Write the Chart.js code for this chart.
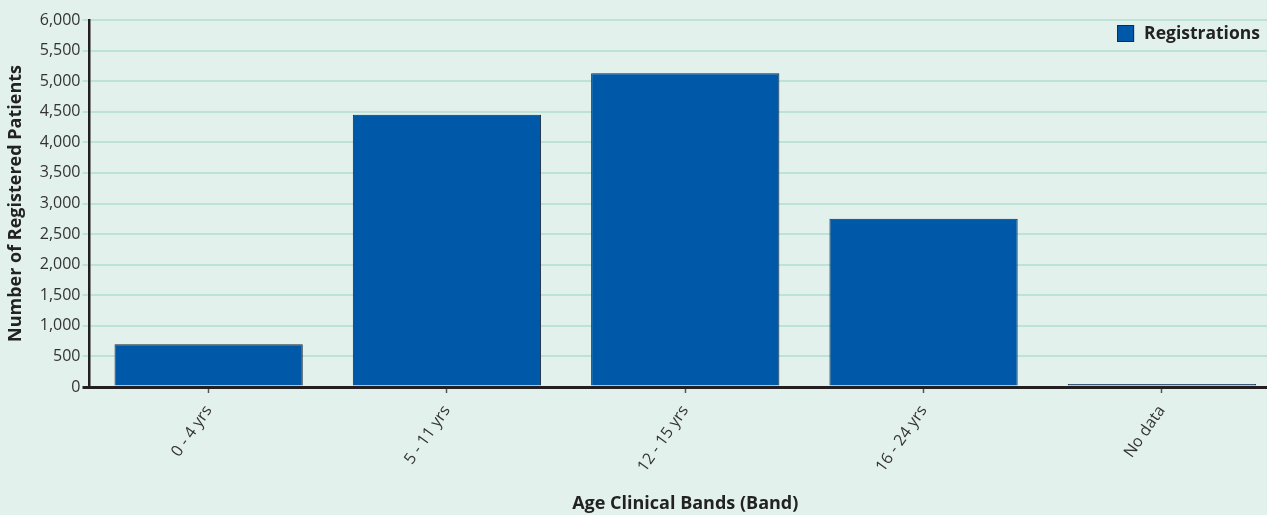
<!DOCTYPE html>
<html>
<head>
<meta charset="utf-8">
<title>Registrations by Age Band</title>
<script src="https://cdn.jsdelivr.net/npm/chart.js@4/dist/chart.umd.min.js"></script>
<style>
    html, body { margin: 0; padding: 0; background: #e3f1ed; overflow: hidden; }
    #wrap { width: 1281px; height: 515px; position: relative; }
</style>
</head>
<body>
<div id="wrap"><canvas id="mainChart"></canvas></div>
<script>
const bands = ['0 - 4 yrs', '5 - 11 yrs', '12 - 15 yrs', '16 - 24 yrs', 'No data'];
const registrations = [700, 4450, 5130, 2750, 50];
const yTicks = [0, 500, 1000, 1500, 2000, 2500, 3000, 3500, 4000, 4500, 5000, 5500, 6000];

const FONT = "'Open Sans', 'Noto Sans', sans-serif";
const GRID = '#bde3d9';
const AXIS = '#231f20';


// ---------------- Legend (inside plot, top right) ----------------
const cornerLegend = {
    id: 'cornerLegend',
    afterDraw(chart) {
        const ctx = chart.ctx;
        const ds = chart.data.datasets[0];
        const area = chart.chartArea;
        ctx.save();
        ctx.font = 'bold 17.5px ' + FONT;
        const textW = ctx.measureText(ds.label).width;
        const right = area.right - 21;
        const textX = right - textW;
        const boxX = textX - 27;
        const boxY = area.top + 5;
        ctx.fillStyle = ds.backgroundColor;
        ctx.fillRect(boxX, boxY, 17, 17);
        ctx.strokeStyle = ds.borderColor;
        ctx.lineWidth = 1;
        ctx.strokeRect(boxX + 0.5, boxY + 0.5, 16, 16);
        ctx.fillStyle = '#222';
        ctx.textBaseline = 'middle';
        ctx.fillText(ds.label, textX, boxY + 9);
        ctx.restore();
    }
};


// ---------------- Chart Init ----------------
function initChart() {
    const ctx = document.getElementById('mainChart').getContext('2d');

    return new Chart(ctx, {
        type: 'bar',
        data: {
            labels: bands,
            datasets: [{
                label: 'Registrations',
                data: registrations,
                backgroundColor: '#0059a8',
                borderColor: '#1b2a3b',
                borderWidth: 1,
                categoryPercentage: 1,
                barPercentage: 0.79
            }]
        },
        options: {
            responsive: true,
            maintainAspectRatio: false,
            animation: false,
            layout: { padding: { top: 20, right: 0, bottom: 0, left: 0 } },
            plugins: {
                legend: { display: false },
                tooltip: { enabled: false }
            },
            scales: {
                x: {
                    afterFit: s => { s.height = 128; },
                    border: { color: AXIS, width: 3 },
                    grid: {
                        offset: false,
                        drawOnChartArea: false,
                        drawTicks: true,
                        tickLength: 6,
                        tickColor: '#555',
                        tickWidth: 1.5
                    },
                    ticks: {
                        autoSkip: false,
                        minRotation: 55,
                        maxRotation: 55,
                        padding: 9,
                        color: '#333',
                        font: { family: FONT, size: 16 }
                    },
                    title: {
                        display: true,
                        text: 'Age Clinical Bands (Band)',
                        color: '#222',
                        padding: { top: 0, bottom: 0 },
                        font: { family: FONT, size: 18, weight: 'bold' }
                    }
                },
                y: {
                    min: 0,
                    max: 6000,
                    afterFit: s => { s.width = 89.5; },
                    afterBuildTicks: s => { s.ticks = yTicks.map(v => ({ value: v })); },
                    border: { color: AXIS, width: 2.5 },
                    grid: {
                        color: c => c.tick && c.tick.value === 0 ? AXIS : GRID,
                        lineWidth: c => c.tick && c.tick.value === 0 ? 3 : 2,
                        tickLength: 7
                    },
                    ticks: {
                        padding: 2,
                        color: '#333',
                        font: { family: FONT, size: 16 },
                        callback: v => v.toLocaleString('en-US')
                    },
                    title: {
                        display: true,
                        text: 'Number of Registered Patients',
                        color: '#222',
                        padding: { top: 5, bottom: 0 },
                        font: { family: FONT, size: 18, weight: 'bold' }
                    }
                }
            }
        },
        plugins: [cornerLegend]
    });
}

initChart();
</script>
</body>
</html>
